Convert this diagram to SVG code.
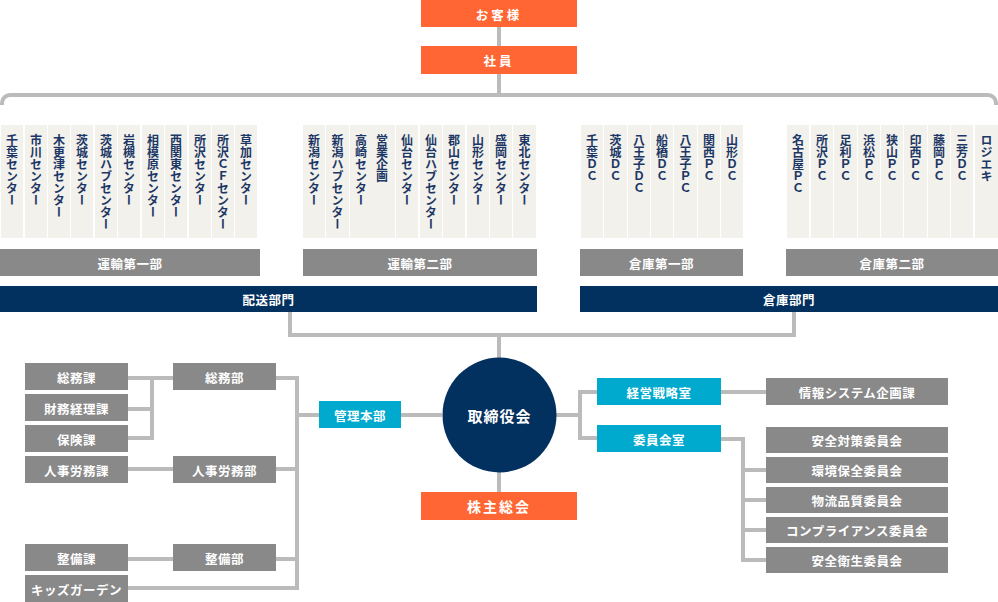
<svg xmlns="http://www.w3.org/2000/svg" width="998" height="602" viewBox="0 0 998 602">
<style>
text{font-family:"Noto Sans CJK JP","Noto Sans",sans-serif;font-weight:bold}
.o{fill:#ff6633}.g{fill:#898989}.c{fill:#00a9ce}.n{fill:#03315f}.col{fill:#f2f1ec}
.t{fill:#fff;font-size:12.5px;letter-spacing:0.5px;text-anchor:middle;dominant-baseline:central}
.v{fill:#1c3765;font-size:12px;writing-mode:vertical-rl;text-orientation:mixed}
.ln{fill:none;stroke:#bbbbbb;stroke-width:4}
</style>
<g id="connectors" class="ln">
<path d="M499,27V46M499,74V95M2,105V103A8,8 0 0 1 10,95H988A8,8 0 0 1 996,103V105"/>
<path d="M290,312V335H794V312M499,335V358M499,472V492"/>
<path d="M128,378H173M128,409H152M128,438H152M152,376V440M128,469H173M128,559H173M128,588H297M276,378H297M276,469H297M276,559H297M297,376V590M297,415H319M401,415H442"/>
<path d="M556,415H580M580,390V440M580,392H597M580,438H597M721,392H766M721,439H743M743,437V562M743,470H766M743,500H766M743,530H766M743,560H766"/>
</g>
<g id="customer"><rect class="o" x="421" y="0" width="156" height="27"/><text class="t" x="499" y="14" style="letter-spacing:3px">お客様</text></g>
<g id="staff"><rect class="o" x="421" y="46" width="156" height="28"/><text class="t" x="499" y="60" style="letter-spacing:3px">社員</text></g>
<g id="unyu1-centers">
<rect class="col" x="1" y="125" width="22" height="113"/><text class="v" x="12" y="134">千葉センター</text>
<rect class="col" x="25" y="125" width="22" height="113"/><text class="v" x="36" y="134">市川センター</text>
<rect class="col" x="48" y="125" width="22" height="113"/><text class="v" x="59" y="134">木更津センター</text>
<rect class="col" x="71" y="125" width="22" height="113"/><text class="v" x="82" y="134">茨城センター</text>
<rect class="col" x="95" y="125" width="22" height="113"/><text class="v" x="106" y="134">茨城ハブセンター</text>
<rect class="col" x="118" y="125" width="22" height="113"/><text class="v" x="129" y="134">岩槻センター</text>
<rect class="col" x="142" y="125" width="22" height="113"/><text class="v" x="153" y="134">相模原センター</text>
<rect class="col" x="165" y="125" width="22" height="113"/><text class="v" x="176" y="134">西関東センター</text>
<rect class="col" x="189" y="125" width="22" height="113"/><text class="v" x="200" y="134">所沢センター</text>
<rect class="col" x="212" y="125" width="22" height="113"/><text class="v" x="223" y="134">所沢ＣＦセンター</text>
<rect class="col" x="235" y="125" width="22" height="113"/><text class="v" x="246" y="134">草加センター</text>
</g>
<g id="unyu2-centers">
<rect class="col" x="303" y="125" width="22" height="113"/><text class="v" x="314" y="134">新潟センター</text>
<rect class="col" x="326" y="125" width="23" height="113"/><text class="v" x="337.5" y="134">新潟ハブセンター</text>
<rect class="col" x="350" y="125" width="45" height="113"/><text class="v" x="361" y="134">高崎センター</text><text class="v" x="382" y="134">営業企画</text>
<rect class="col" x="396" y="125" width="22" height="113"/><text class="v" x="407" y="134">仙台センター</text>
<rect class="col" x="420" y="125" width="22" height="113"/><text class="v" x="431" y="134">仙台ハブセンター</text>
<rect class="col" x="443" y="125" width="22" height="113"/><text class="v" x="454" y="134">郡山センター</text>
<rect class="col" x="467" y="125" width="22" height="113"/><text class="v" x="478" y="134">山形センター</text>
<rect class="col" x="490" y="125" width="22" height="113"/><text class="v" x="501" y="134">盛岡センター</text>
<rect class="col" x="513" y="125" width="23" height="113"/><text class="v" x="524.5" y="134">東北センター</text>
</g>
<g id="souko1-centers">
<rect class="col" x="581" y="125" width="22" height="113"/><text class="v" x="592" y="134">千葉ＤＣ</text>
<rect class="col" x="604" y="125" width="23" height="113"/><text class="v" x="615.5" y="134">茨城ＤＣ</text>
<rect class="col" x="628" y="125" width="22" height="113"/><text class="v" x="639" y="134">八王子ＤＣ</text>
<rect class="col" x="651" y="125" width="22" height="113"/><text class="v" x="662" y="134">船橋ＤＣ</text>
<rect class="col" x="674" y="125" width="23" height="113"/><text class="v" x="685.5" y="134">八王子ＰＣ</text>
<rect class="col" x="698" y="125" width="22" height="113"/><text class="v" x="709" y="134">関西ＰＣ</text>
<rect class="col" x="721" y="125" width="22" height="113"/><text class="v" x="732" y="134">山形ＤＣ</text>
</g>
<g id="souko2-centers">
<rect class="col" x="787" y="125" width="22" height="113"/><text class="v" x="798" y="134">名古屋ＰＣ</text>
<rect class="col" x="811" y="125" width="22" height="113"/><text class="v" x="822" y="134">所沢ＰＣ</text>
<rect class="col" x="834" y="125" width="23" height="113"/><text class="v" x="845.5" y="134">足利ＰＣ</text>
<rect class="col" x="858" y="125" width="22" height="113"/><text class="v" x="869" y="134">浜松ＰＣ</text>
<rect class="col" x="881" y="125" width="22" height="113"/><text class="v" x="892" y="134">狭山ＰＣ</text>
<rect class="col" x="904" y="125" width="23" height="113"/><text class="v" x="915.5" y="134">印西ＰＣ</text>
<rect class="col" x="928" y="125" width="22" height="113"/><text class="v" x="939" y="134">藤岡ＰＣ</text>
<rect class="col" x="951" y="125" width="22" height="113"/><text class="v" x="962" y="134">三芳ＤＣ</text>
<rect class="col" x="975" y="125" width="23" height="113"/><text class="v" x="986.5" y="134">ロジエキ</text>
</g>
<g id="unyu1"><rect class="g" x="0" y="249" width="260" height="27"/><text class="t" x="130" y="263">運輸第一部</text></g>
<g id="unyu2"><rect class="g" x="303" y="249" width="234" height="27"/><text class="t" x="420" y="263">運輸第二部</text></g>
<g id="souko1"><rect class="g" x="580" y="249" width="163" height="27"/><text class="t" x="661.5" y="263">倉庫第一部</text></g>
<g id="souko2"><rect class="g" x="786" y="249" width="212" height="27"/><text class="t" x="892" y="263">倉庫第二部</text></g>
<g id="haisou"><rect class="n" x="0" y="286" width="537" height="26"/><text class="t" x="268.5" y="299">配送部門</text></g>
<g id="souko"><rect class="n" x="580" y="286" width="418" height="26"/><text class="t" x="789" y="299">倉庫部門</text></g>
<g id="board"><ellipse class="n" cx="499.5" cy="415" rx="57" ry="57.5"/><text class="t" x="499.5" y="415" style="font-size:15px;letter-spacing:1px">取締役会</text></g>
<g id="shareholders"><rect class="o" x="421" y="492" width="156" height="28"/><text class="t" x="499" y="506" style="font-size:14px;letter-spacing:2px">株主総会</text></g>
<g id="kanri"><rect class="c" x="319" y="401" width="82" height="27"/><text class="t" x="360" y="415">管理本部</text></g>
<g id="soumubu"><rect class="g" x="173" y="363" width="103" height="27"/><text class="t" x="224.5" y="377">総務部</text></g>
<g id="jinjibu"><rect class="g" x="173" y="456" width="103" height="27"/><text class="t" x="224.5" y="470">人事労務部</text></g>
<g id="seibibu"><rect class="g" x="173" y="544" width="103" height="27"/><text class="t" x="224.5" y="558">整備部</text></g>
<g id="soumuka"><rect class="g" x="25" y="363" width="103" height="27"/><text class="t" x="76.5" y="377">総務課</text></g>
<g id="zaimuka"><rect class="g" x="25" y="394" width="103" height="27"/><text class="t" x="76.5" y="408">財務経理課</text></g>
<g id="hokenka"><rect class="g" x="25" y="425" width="103" height="27"/><text class="t" x="76.5" y="439">保険課</text></g>
<g id="jinjika"><rect class="g" x="25" y="456" width="103" height="27"/><text class="t" x="76.5" y="470">人事労務課</text></g>
<g id="seibika"><rect class="g" x="25" y="544" width="103" height="27"/><text class="t" x="76.5" y="558">整備課</text></g>
<g id="kids"><rect class="g" x="25" y="575" width="103" height="27"/><text class="t" x="76.5" y="589">キッズガーデン</text></g>
<g id="keiei"><rect class="c" x="597" y="378" width="124" height="27"/><text class="t" x="659" y="392">経営戦略室</text></g>
<g id="iinkai"><rect class="c" x="597" y="425" width="124" height="27"/><text class="t" x="659" y="439">委員会室</text></g>
<g id="jouhou"><rect class="g" x="766" y="378" width="182" height="27"/><text class="t" x="857" y="392">情報システム企画課</text></g>
<g id="anzen"><rect class="g" x="766" y="427" width="182" height="26"/><text class="t" x="857" y="440">安全対策委員会</text></g>
<g id="kankyou"><rect class="g" x="766" y="457" width="182" height="26"/><text class="t" x="857" y="470">環境保全委員会</text></g>
<g id="butsuryu"><rect class="g" x="766" y="487" width="182" height="26"/><text class="t" x="857" y="500">物流品質委員会</text></g>
<g id="compliance"><rect class="g" x="766" y="517" width="182" height="26"/><text class="t" x="857" y="530">コンプライアンス委員会</text></g>
<g id="eisei"><rect class="g" x="766" y="547" width="182" height="26"/><text class="t" x="857" y="560">安全衛生委員会</text></g>
</svg>
